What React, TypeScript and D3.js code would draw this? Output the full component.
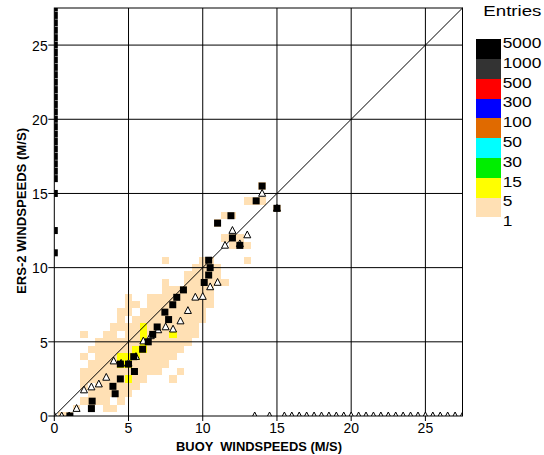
import React from "react";
import * as d3 from "d3";

// Axis range and labelled ticks (m/s)
const AXIS_MAX = 27.5;
const X_TICKS = [0, 5, 10, 15, 20, 25];
const Y_TICKS = [0, 5, 10, 15, 20, 25];
const BIN = 0.5;

// 2D histogram: bins holding 1-4 entries, grouped by ERS-2 bin centre
const LOW_ROW_Y = [0, 0.5, 1, 1.5, 2, 2.5, 3, 3.5, 4, 4.5, 5, 5.5, 6, 6.5, 7, 7.5, 8, 8.5, 9, 9.5, 10, 10.5, 11.5, 12, 13, 13.5, 14, 14.5, 15.5];
const LOW_ROW_X: number[][] = [
  [0.5, 1],
  [1.5, 2.5, 3.5, 4],
  [2, 2.5, 3, 3.5, 4.5],
  [2.5, 3, 3.5, 4, 4.5, 5],
  [2, 3, 3.5, 4, 4.5, 5, 5.5],
  [2, 2.5, 3, 3.5, 4, 4.5, 5.5, 6, 8],
  [2, 2.5, 3, 3.5, 4, 4.5, 5, 5.5, 6, 6.5, 7, 8.5],
  [2.5, 3, 3.5, 4, 5.5, 6, 6.5, 7, 7.5],
  [2, 3, 3.5, 4, 6, 6.5, 7, 7.5, 8],
  [2.5, 3, 3.5, 4, 4.5, 5, 6.5, 7, 7.5, 8, 8.5],
  [3, 3.5, 4, 4.5, 5, 5.5, 6.5, 7, 7.5, 8, 8.5, 9],
  [2, 3.5, 4, 5, 5.5, 6.5, 7, 7.5, 8.5, 9, 9.5],
  [4, 4.5, 5, 5.5, 6.5, 7, 7.5, 8, 8.5, 9, 9.5],
  [4.5, 5.5, 6, 6.5, 7, 7.5, 8, 8.5, 9, 9.5, 10],
  [4.5, 5, 6, 6.5, 7, 7.5, 8, 8.5, 9, 9.5, 10],
  [5, 5.5, 6.5, 7, 7.5, 8, 8.5, 9, 9.5, 10, 10.5],
  [5, 6.5, 7, 7.5, 8, 8.5, 9, 9.5, 10, 10.5],
  [7.5, 8, 8.5, 9, 9.5, 10, 10.5],
  [7.5, 9, 9.5, 10, 10.5, 11, 11.5],
  [9, 9.5, 10, 10.5, 11],
  [9.5, 10, 10.5, 11],
  [7.5, 10, 10.5, 13],
  [12, 12.5, 13],
  [11.5, 12, 12.5],
  [11],
  [11.5, 12],
  [15],
  [13, 13.5, 14],
  [14],
];
const LOW_COUNT = 2;

// Bins holding 5-14 entries
const MID_X = [5, 4.5, 5, 4.5, 5, 5.5, 5.5, 6, 6, 6, 8, 6];
const MID_Y = [2.5, 3.5, 3.5, 4, 4, 4, 4.5, 4.5, 5, 5.5, 5.5, 6];
const MID_COUNT = 8;

// Mean BUOY speed for each ERS-2 bin (empty bins sit at 0)
const PROF_Y_BIN = [0, 0.5, 1, 1.5, 2, 2.5, 3, 3.5, 3.5, 4, 4.5, 5, 5.5, 6, 6.5, 7, 7.5, 8, 8.5, 9, 9.5, 10, 10.5, 11, 11.5, 12, 12.5, 13, 13.5, 14, 14.5, 15, 15.5, 16, 16.5, 17, 17.5, 18, 18.5, 19, 19.5, 20, 20.5, 21, 21.5, 22, 22.5, 23, 23.5, 24, 24.5, 25, 25.5, 26, 26.5, 27, 27.5];
const PROF_Y_MEAN_X = [1.05, 2.5, 2.55, 4.1, 3.95, 4.45, 5.4, 4.45, 5.0, 5.35, 5.95, 6.33, 6.63, 6.93, 7.7, 7.45, 7.98, 8.25, 8.7, 10.1, 10.4, 10.5, 10.4, 0, 12.5, 12.0, 0, 11.0, 11.9, 15.0, 13.6, 0, 14.0, 0, 0, 0, 0, 0, 0, 0, 0, 0, 0, 0, 0, 0, 0, 0, 0, 0, 0, 0, 0, 0, 0, 0, 0];

// Mean ERS-2 speed for each BUOY bin (empty bins sit at 0)
const PROF_X_BIN = [0, 0.5, 1, 1.5, 2, 2.5, 3, 3.5, 4, 4.5, 5, 5.5, 6, 6.5, 7, 7.5, 8, 8.5, 9, 9.5, 10, 10.5, 11, 11.5, 12, 12.5, 13, 13.5, 14, 14.5, 15, 15.5, 16, 16.5, 17, 17.5, 18, 18.5, 19, 19.5, 20, 20.5, 21, 21.5, 22, 22.5, 23, 23.5, 24, 24.5, 25, 25.5, 26, 26.5, 27, 27.5];
const PROF_X_MEAN_Y = [0, 0, 0, 0.5, 1.75, 1.95, 2.15, 2.6, 3.7, 3.55, 3.55, 4.0, 5.05, 5.4, 5.8, 6.0, 5.85, 6.4, 7.1, 8.0, 8.05, 8.7, 9.0, 11.5, 12.5, 11.6, 12.2, 0, 15.0, 0, 14.0, 0, 0, 0, 0, 0, 0, 0, 0, 0, 0, 0, 0, 0, 0, 0, 0, 0, 0, 0, 0, 0, 0, 0, 0, 0];

// Colour legend (top to bottom)
const LEGEND_LABELS = ["5000", "1000", "500", "300", "100", "50", "30", "15", "5", "1"];
const LEGEND_COLORS = ["#000000", "#333333", "#ff0000", "#0000ff", "#e06a00", "#00ffff", "#00ee00", "#ffff00", "#ffe0b4"];
const LEGEND_EDGES = [5000, 1000, 500, 300, 100, 50, 30, 15, 5, 1];

const FONT = "'Liberation Sans', Arial, Helvetica, sans-serif";

export default function App() {
  const x = d3.scaleLinear().domain([0, AXIS_MAX]).range([54.3, 462.5]);
  const y = d3.scaleLinear().domain([0, AXIS_MAX]).range([416, 8]);

  const color = d3
    .scaleThreshold<number, string>()
    .domain(LEGEND_EDGES.slice(1, -1).reverse())
    .range([...LEGEND_COLORS].reverse());

  const cells: { cx: number; cy: number; n: number }[] = [];
  LOW_ROW_Y.forEach((cy, i) => LOW_ROW_X[i].forEach((cx) => cells.push({ cx, cy, n: LOW_COUNT })));
  MID_X.forEach((cx, i) => cells.push({ cx, cy: MID_Y[i], n: MID_COUNT }));

  const [px0, px1] = x.range();
  const [py0, py1] = y.range();

  const legendRow = d3.scaleLinear().domain([0, LEGEND_COLORS.length]).range([39.3, 217.3]);

  const tri = "M0,-4 L3.5,2.8 L-3.5,2.8 Z";

  return (
    <svg
      width={544}
      height={455}
      style={{ position: "absolute", left: 0, top: 0, background: "#fff" }}
      fontFamily={FONT}
    >
      <defs>
        <clipPath id="plot">
          <rect x={px0} y={py1} width={px1 - px0} height={py0 - py1} />
        </clipPath>
      </defs>

      <g clipPath="url(#plot)">
        {cells.map((c, i) => (
          <rect
            key={i}
            x={x(c.cx - BIN / 2)}
            y={y(c.cy + BIN / 2)}
            width={x(c.cx + BIN / 2) - x(c.cx - BIN / 2)}
            height={y(c.cy - BIN / 2) - y(c.cy + BIN / 2)}
            fill={color(c.n)}
            shapeRendering="crispEdges"
          />
        ))}
      </g>

      {/* grid */}
      {X_TICKS.filter((t) => t > 0).map((t) => (
        <line key={"gx" + t} x1={x(t)} x2={x(t)} y1={py1} y2={py0} stroke="#000" strokeWidth={1} />
      ))}
      {Y_TICKS.filter((t) => t > 0).map((t) => (
        <line key={"gy" + t} x1={px0} x2={px1} y1={y(t)} y2={y(t)} stroke="#000" strokeWidth={1} />
      ))}

      {/* y = x reference */}
      <line x1={x(0)} y1={y(0)} x2={x(AXIS_MAX)} y2={y(AXIS_MAX)} stroke="#000" strokeWidth={1} />

      <g clipPath="url(#plot)">
        {PROF_X_BIN.map((bx, i) => (
          <path
            key={"t" + i}
            d={tri}
            transform={`translate(${x(bx)},${y(PROF_X_MEAN_Y[i])})`}
            fill="#fff"
            stroke="#000"
            strokeWidth={1}
          />
        ))}
        {PROF_Y_BIN.map((by, i) => (
          <rect
            key={"s" + i}
            x={x(PROF_Y_MEAN_X[i]) - 3.5}
            y={y(by) - 3.5}
            width={7}
            height={7}
            fill="#000"
          />
        ))}
      </g>

      {/* frame */}
      <rect x={px0} y={py1} width={px1 - px0} height={py0 - py1} fill="none" stroke="#000" strokeWidth={1} />

      {/* axes ticks and labels */}
      {X_TICKS.map((t) => (
        <g key={"xt" + t}>
          <line x1={x(t)} x2={x(t)} y1={py0} y2={py0 + 5} stroke="#000" />
          <text x={x(t)} y={433} fontSize={14} textAnchor="middle">
            {t}
          </text>
        </g>
      ))}
      {Y_TICKS.map((t) => (
        <g key={"yt" + t}>
          <line x1={px0 - 6} x2={px0} y1={y(t)} y2={y(t)} stroke="#000" />
          <text x={47.7} y={y(t) + 5.8} fontSize={14} textAnchor="end">
            {t}
          </text>
        </g>
      ))}

      <text
        x={176}
        y={450.5}
        fontSize={13}
        fontWeight="bold"
        textLength={166}
        lengthAdjust="spacingAndGlyphs"
        style={{ whiteSpace: "pre" }}
      >
        {"BUOY  WINDSPEEDS (M/S)"}
      </text>
      <text
        transform="translate(26,211) rotate(-90)"
        fontSize={13}
        fontWeight="bold"
        textAnchor="middle"
        textLength={166}
        lengthAdjust="spacingAndGlyphs"
      >
        ERS-2 WINDSPEEDS (M/S)
      </text>

      {/* legend */}
      <text transform="translate(483.3,15.7) scale(1.29,1)" fontSize={14.5}>
        Entries
      </text>
      {LEGEND_COLORS.map((c, i) => (
        <rect
          key={"lb" + i}
          x={476}
          y={legendRow(i)}
          width={25}
          height={legendRow(i + 1) - legendRow(i)}
          fill={c}
          shapeRendering="crispEdges"
        />
      ))}
      {LEGEND_LABELS.map((l, i) => (
        <text
          key={"ll" + i}
          transform={`translate(502.7,${legendRow(i) + 8.8}) scale(1.24,1)`}
          fontSize={14}
        >
          {l}
        </text>
      ))}
    </svg>
  );
}
